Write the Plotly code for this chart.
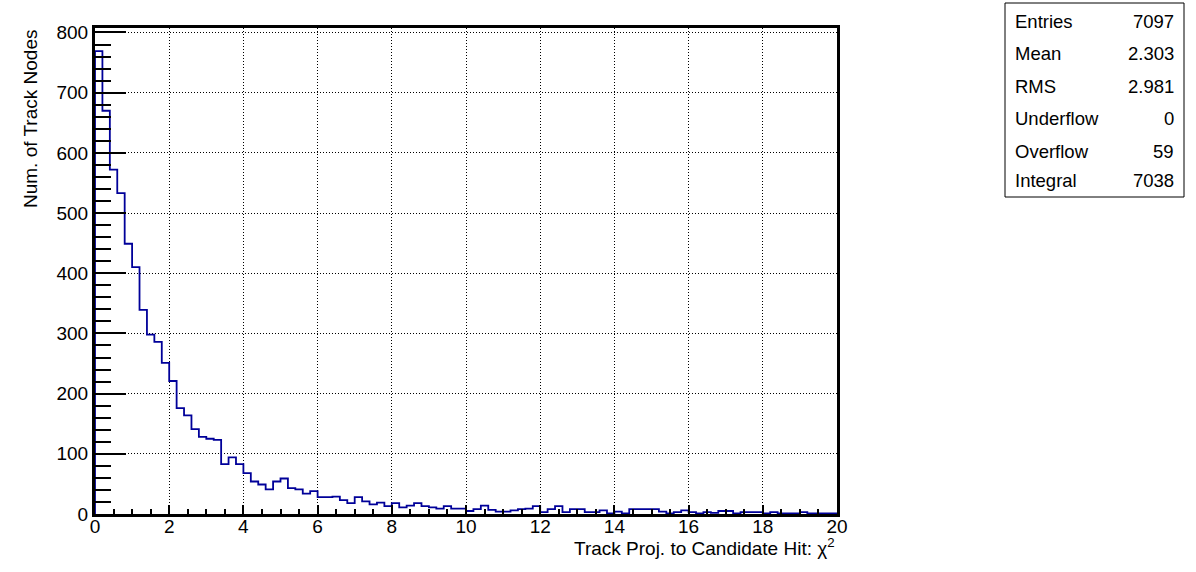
import numpy as np
import plotly.graph_objects as go

# ---- data ----
x_low = 0.0
x_high = 20.0
n_bins = 100
counts = [
    769, 670, 572, 533, 449, 410, 339, 298, 286, 251,
    221, 176, 164, 141, 128, 125, 123, 83, 94, 83,
    68, 54, 49, 41, 54, 59, 43, 41, 34, 38,
    28, 28, 29, 23, 18, 28, 21, 16, 19, 13,
    18, 11, 14, 18, 13, 11, 9, 13, 9, 9,
    5, 8, 14, 7, 4, 4, 6, 8, 9, 13,
    3, 8, 13, 3, 8, 8, 3, 3, 6, 1,
    4, 1, 8, 8, 8, 8, 4, 1, 3, 6,
    3, 1, 3, 2, 5, 5, 1, 3, 3, 3,
    1, 3, 1, 1, 1, 3, 1, 1, 1, 1,
]
stat_names = ["Entries", "Mean", "RMS", "Underflow", "Overflow", "Integral"]
stat_values = ["7097", "2.303", "2.981", "0", "59", "7038"]
x_ticks = [0, 2, 4, 6, 8, 10, 12, 14, 16, 18, 20]
y_ticks = [0, 100, 200, 300, 400, 500, 600, 700, 800]
x_title = "Track Proj. to Candidate Hit: \u03c7<sup>2</sup>"
y_title = "Num. of Track Nodes"

# ---- build step outline ----
edges = np.linspace(x_low, x_high, n_bins + 1)
xs = [edges[0]] + list(edges[:-1]) + [edges[-1]]
ys = [0] + list(counts) + [0]

FONT = "Liberation Sans, Arial, Helvetica, sans-serif"

fig = go.Figure()
fig.add_trace(go.Scatter(
    x=xs, y=ys, mode="lines", line=dict(color="#000099", width=1.8, shape="hv"),
    hoverinfo="skip", showlegend=False,
))

W, H = 1196, 572
L, R, T, B = 95, 837, 28, 514
pw, ph = R - L, B - T

def px_x(px):
    return (px - L) / pw

def px_y(py):
    return (B - py) / ph

ymax = max(counts) * 1.05

fig.update_layout(
    width=W, height=H,
    margin=dict(l=L, r=W - R, t=T, b=H - B, pad=0),
    paper_bgcolor="white", plot_bgcolor="white",
    font=dict(family=FONT, size=19, color="black"),
    xaxis=dict(
        range=[x_low, x_high], tickvals=x_ticks, ticks="inside", ticklen=9, tickwidth=2,
        tickcolor="black", showline=True, linecolor="black", linewidth=3, mirror=True,
        showgrid=True, gridcolor="black", gridwidth=1, griddash="1px,2px",
        zeroline=False, tickfont=dict(family=FONT, size=19, color="black"),
        ticklabelstandoff=-7,
        minor=dict(dtick=0.5, ticks="inside", ticklen=5, tickwidth=2, tickcolor="black", showgrid=False),
    ),
    yaxis=dict(
        range=[0, ymax], tickvals=y_ticks, ticks="inside", ticklen=31, tickwidth=2,
        tickcolor="black", showline=True, linecolor="black", linewidth=3, mirror=True,
        showgrid=True, gridcolor="black", gridwidth=1, griddash="1px,2px",
        zeroline=False, tickfont=dict(family=FONT, size=19, color="black"),
        minor=dict(dtick=20, ticks="inside", ticklen=16, tickwidth=2, tickcolor="black", showgrid=False),
    ),
)

# axis titles
fig.add_annotation(
    text=x_title, xref="paper", yref="paper", x=1.0, y=px_y(547),
    xanchor="right", yanchor="middle", showarrow=False,
    font=dict(family=FONT, size=19, color="black"),
)
fig.add_annotation(
    text=y_title, xref="paper", yref="paper", x=px_x(30), y=1.0,
    xanchor="center", yanchor="top", textangle=-90, showarrow=False,
    font=dict(family=FONT, size=19, color="black"),
)

# stats box
bx0, bx1, by0, by1 = 1005, 1184, 3, 197
fig.add_shape(
    type="rect", xref="paper", yref="paper",
    x0=px_x(bx0), x1=px_x(bx1), y0=px_y(by1), y1=px_y(by0),
    line=dict(color="black", width=1), fillcolor="white",
)
row_y = [21, 53, 87, 119, 151, 181]
for name, val, ry in zip(stat_names, stat_values, row_y):
    fig.add_annotation(
        text=name, xref="paper", yref="paper", x=px_x(1013), y=px_y(ry),
        xanchor="left", yanchor="middle", showarrow=False,
        font=dict(family=FONT, size=18.5, color="black"),
    )
    fig.add_annotation(
        text=val, xref="paper", yref="paper", x=px_x(1176), y=px_y(ry),
        xanchor="right", yanchor="middle", showarrow=False,
        font=dict(family=FONT, size=18.5, color="black"),
    )

fig.write_html(
    "out.html",
    config={"displayModeBar": False},
    post_script="document.body.style.margin='0';",
)
